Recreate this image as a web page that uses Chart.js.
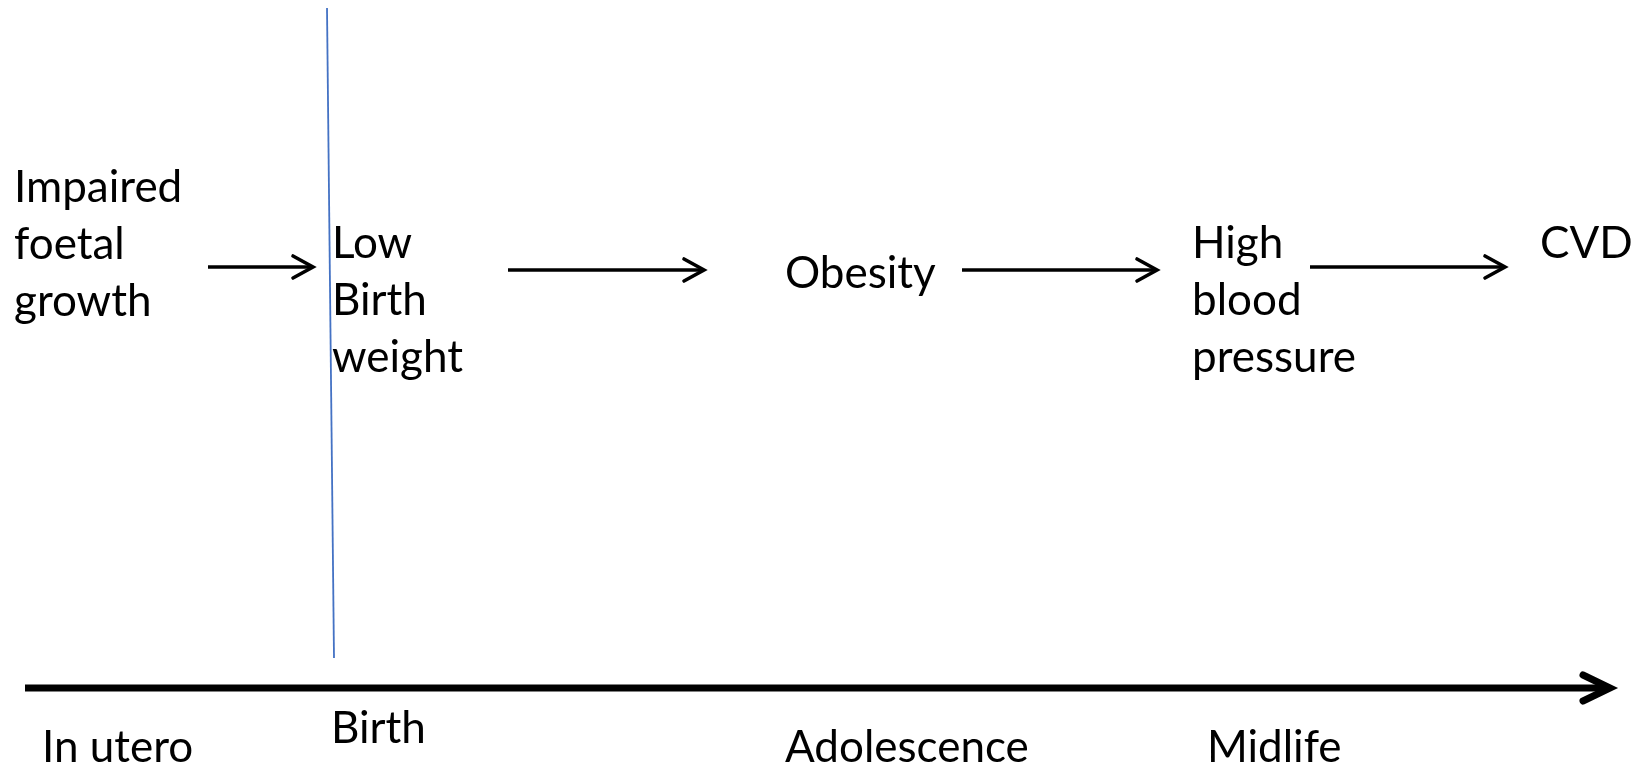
<!DOCTYPE html>
<html>
<head>
<meta charset="utf-8">
<script src="https://cdn.jsdelivr.net/npm/chart.js@4.4.1/dist/chart.umd.min.js"></script>
<style>
  html, body { margin: 0; padding: 0; background: #ffffff; }
  #wrap { position: relative; width: 1639px; height: 765px; }
</style>
</head>
<body>
<div id="wrap"><canvas id="c"></canvas></div>
<script>
// ---- Diagram data (in the diagram's own value space: x 0..1639, y 0..765 top-down) ----
const stageLabels = ['In utero', 'Birth', 'Adolescence', 'Midlife'];
const stageX = [42, 331, 785, 1207];
const stageY = [762, 743, 762, 762];

const outcomeLabels = [
  ['Impaired', 'foetal', 'growth'],
  ['Low', 'Birth', 'weight'],
  ['Obesity'],
  ['High', 'blood', 'pressure'],
  ['CVD']
];
const outcomeX = [14, 332, 785, 1192, 1540];
const outcomeY = [202, 258, 288, 258, 258];

const arrowStartX = [208, 508, 962, 1310];
const arrowEndX = [313, 704, 1157, 1505];
const arrowY = [267, 270, 270, 267];

const timelineX = [25, 1610];
const timelineY = [688, 688];

const birthLineX = [327, 334];
const birthLineY = [8, 658];

// ---- build datasets ----
const datasets = [];
datasets.push({
  label: 'timeline',
  data: timelineX.map((x, i) => ({ x, y: timelineY[i] })),
  showLine: true, borderColor: '#000000', borderWidth: 7, pointRadius: 0,
  borderCapStyle: 'butt', clip: false, arrowHead: { len: 27, half: 13 }
});
datasets.push({
  label: 'birth',
  data: birthLineX.map((x, i) => ({ x, y: birthLineY[i] })),
  showLine: true, borderColor: '#4472C4', borderWidth: 1.8, pointRadius: 0, clip: false
});
arrowStartX.forEach((sx, i) => {
  datasets.push({
    label: 'arrow' + i,
    data: [{ x: sx, y: arrowY[i] }, { x: arrowEndX[i], y: arrowY[i] }],
    showLine: true, borderColor: '#000000', borderWidth: 3.6, pointRadius: 0,
    clip: false, arrowHead: { len: 20, half: 11 }
  });
});

const FONT = '44px Lato';
const LINE_H = 57;

const diagramPlugin = {
  id: 'diagram',
  afterDatasetsDraw(chart) {
    const ctx = chart.ctx;
    const xs = chart.scales.x, ys = chart.scales.y;
    ctx.save();
    // arrowheads
    chart.data.datasets.forEach(ds => {
      if (!ds.arrowHead) return;
      const n = ds.data.length;
      const p = ds.data[n - 1], q = ds.data[n - 2];
      const tx = xs.getPixelForValue(p.x), ty = ys.getPixelForValue(p.y);
      const qx = xs.getPixelForValue(q.x), qy = ys.getPixelForValue(q.y);
      const ang = Math.atan2(ty - qy, tx - qx);
      const L = ds.arrowHead.len, H = ds.arrowHead.half;
      const bx = tx - L * Math.cos(ang), by = ty - L * Math.sin(ang);
      const nx = -Math.sin(ang), ny = Math.cos(ang);
      ctx.beginPath();
      ctx.moveTo(bx + nx * H, by + ny * H);
      ctx.lineTo(tx, ty);
      ctx.lineTo(bx - nx * H, by - ny * H);
      ctx.strokeStyle = ds.borderColor;
      ctx.lineWidth = ds.borderWidth;
      ctx.lineCap = 'round';
      ctx.lineJoin = 'miter';
      ctx.stroke();
    });
    // text
    ctx.fillStyle = '#000000';
    ctx.font = FONT;
    ctx.textAlign = 'left';
    ctx.textBaseline = 'alphabetic';
    outcomeLabels.forEach((lines, i) => {
      lines.forEach((t, j) => {
        ctx.fillText(t, xs.getPixelForValue(outcomeX[i]), ys.getPixelForValue(outcomeY[i] + j * LINE_H));
      });
    });
    stageLabels.forEach((t, i) => {
      ctx.fillText(t, xs.getPixelForValue(stageX[i]), ys.getPixelForValue(stageY[i]));
    });
    ctx.restore();
  }
};

function draw() {
  new Chart(document.getElementById('c'), {
    type: 'scatter',
    data: { datasets },
    options: {
      responsive: true,
      maintainAspectRatio: false,
      animation: false,
      events: [],
      layout: { padding: 0 },
      plugins: { legend: { display: false }, tooltip: { enabled: false }, title: { display: false } },
      scales: {
        x: { type: 'linear', min: 0, max: 1639, display: false },
        y: { type: 'linear', min: 0, max: 765, reverse: true, display: false }
      }
    },
    plugins: [diagramPlugin]
  });
}
if (document.fonts && document.fonts.load) {
  document.fonts.load(FONT).then(draw, draw);
} else { draw(); }
</script>
</body>
</html>
